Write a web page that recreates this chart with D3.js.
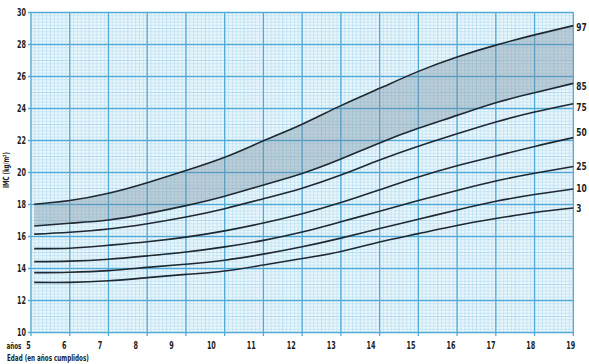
<!DOCTYPE html>
<html>
<head>
<meta charset="utf-8">
<script src="https://cdn.jsdelivr.net/npm/d3@7"></script>
<style>
  html, body { margin: 0; padding: 0; background: #ffffff; }
  svg { display: block; }
  text { font-family: "Liberation Sans Narrow", "DejaVu Sans Condensed", "Roboto Condensed", "DejaVu Sans", sans-serif; font-stretch: condensed; font-weight: bold; fill: #1c1c1c; }
</style>
</head>
<body>
<svg id="chart" width="589" height="364"></svg>
<script>
// ---- data ----
const ages = [5.083, 6, 7, 8, 9, 10, 11, 12, 13, 14, 15, 16, 17, 18, 19];
const p3  = [13.13, 13.13, 13.23, 13.43, 13.63, 13.84, 14.22, 14.62, 15.06, 15.66, 16.18, 16.69, 17.12, 17.50, 17.78];
const p10 = [13.74, 13.77, 13.87, 14.07, 14.27, 14.52, 14.90, 15.36, 15.90, 16.50, 17.08, 17.66, 18.20, 18.62, 18.97];
const p25 = [14.43, 14.46, 14.58, 14.79, 15.03, 15.35, 15.76, 16.28, 16.92, 17.58, 18.25, 18.88, 19.47, 19.95, 20.38];
const p50 = [15.24, 15.27, 15.45, 15.67, 15.96, 16.35, 16.84, 17.42, 18.12, 18.92, 19.72, 20.42, 21.03, 21.63, 22.18];
const p75 = [16.15, 16.27, 16.47, 16.80, 17.22, 17.74, 18.36, 19.02, 19.84, 20.78, 21.64, 22.42, 23.16, 23.78, 24.30];
const p85 = [16.66, 16.83, 17.03, 17.43, 17.93, 18.52, 19.22, 19.94, 20.84, 21.85, 22.76, 23.57, 24.36, 24.98, 25.57];
const p97 = [18.02, 18.25, 18.70, 19.36, 20.12, 20.95, 21.98, 23.02, 24.18, 25.26, 26.32, 27.22, 27.96, 28.60, 29.18];
const seriesNames = ["3", "10", "25", "50", "75", "85", "97"];
const seriesValues = [p3, p10, p25, p50, p75, p85, p97];
const xTickLabels = [5, 6, 7, 8, 9, 10, 11, 12, 13, 14, 15, 16, 17, 18, 19];
const yTickLabels = [10, 12, 14, 16, 18, 20, 22, 24, 26, 28, 30];
const yAxisTitle = "IMC (kg/m²)";
const xAxisUnit = "años";
const xAxisTitle = "Edad (en años cumplidos)";

// ---- layout ----
const svg = d3.select("#chart");
const x = d3.scaleLinear().domain([5, 19]).range([31, 573.3]);
const y = d3.scaleLinear().domain([10, 30]).range([332.5, 12.5]);
// tick labels in the reference sit slightly left of their grid lines
const xLabel = d3.scaleLinear().domain([5, 9, 19]).range([x(5) - 2.5, x(9) - 14.5, x(19) - 2.5]);
const narrow = (sel, perChar) => sel.attr("textLength", function () { return this.textContent.length * perChar; })
  .attr("lengthAdjust", "spacingAndGlyphs");
// squeeze a text horizontally (via transform) so that it is `w` px wide
function squeeze(sel, tx, ty, w, rot) {
  const len = sel.node().getComputedTextLength();
  const k = Math.min(1, w / len);
  sel.attr("transform", `translate(${tx},${ty})` + (rot ? ` rotate(${rot})` : "") + ` scale(${k},1)`);
}

// background
svg.append("rect").attr("x", x(5)).attr("y", y(30))
  .attr("width", x(19) - x(5)).attr("height", y(10) - y(30)).attr("fill", "#eaf6fc");

const grid = svg.append("g");
// minor grid
const minorX = d3.range(0, 141).map(i => 5 + i / 10);
const minorY = d3.range(0, 101).map(i => 10 + i / 5);
grid.selectAll(".mx").data(minorX).join("line")
  .attr("x1", d => x(d)).attr("x2", d => x(d)).attr("y1", y(30)).attr("y2", y(10))
  .attr("stroke", d => (Math.round(d * 10) % 5 === 0) ? "#9ad0ea" : "#b4ddf0")
  .attr("stroke-width", 0.6);
grid.selectAll(".my").data(minorY).join("line")
  .attr("y1", d => y(d)).attr("y2", d => y(d)).attr("x1", x(5)).attr("x2", x(19))
  .attr("stroke", d => (Math.round(d * 5) % 5 === 0) ? "#9ad0ea" : "#b4ddf0")
  .attr("stroke-width", 0.6);
// major grid
grid.selectAll(".Mx").data(xTickLabels).join("line")
  .attr("x1", d => x(d)).attr("x2", d => x(d)).attr("y1", y(30)).attr("y2", y(10) + 3.5)
  .attr("stroke", "#52aad8").attr("stroke-width", 1.3);
grid.selectAll(".My").data(yTickLabels).join("line")
  .attr("y1", d => y(d)).attr("y2", d => y(d)).attr("x1", x(5) - 3).attr("x2", x(19))
  .attr("stroke", "#52aad8").attr("stroke-width", 1.3);

// shaded band between 85 and 97
const curve = d3.curveNatural;
const pts = ages.map((a, i) => ({ a, lo: p85[i], hi: p97[i] }));
svg.append("path").datum(pts)
  .attr("d", d3.area().x(d => x(d.a)).y0(d => y(d.lo)).y1(d => y(d.hi)).curve(curve))
  .attr("fill", "#6f8899").attr("fill-opacity", 0.36);

// curves
const line = d3.line().x(d => x(d[0])).y(d => y(d[1])).curve(curve);
seriesValues.forEach(vals => {
  svg.append("path").datum(ages.map((a, i) => [a, vals[i]]))
    .attr("d", line).attr("fill", "none")
    .attr("stroke", "#1e2931").attr("stroke-width", 1.6);
});

// right-end labels
const nudge = { "97": 2.5, "85": 4, "75": 4, "50": -4.5, "25": 0.5, "10": 0.5, "3": 0.5 };
seriesNames.forEach((n, i) => {
  const v = seriesValues[i][seriesValues[i].length - 1];
  svg.append("text").attr("x", x(19) + 3).attr("y", y(v) + nudge[n])
    .attr("dominant-baseline", "middle").attr("font-size", 10.5).text(n).call(narrow, 5.2);
});

// y tick labels
svg.selectAll(".yl").data(yTickLabels).join("text")
  .attr("x", x(5) - 5).attr("y", d => y(d)).attr("text-anchor", "end")
  .attr("dominant-baseline", "middle").attr("font-size", 10).text(d => d).call(narrow, 4.5);

// x tick labels
svg.selectAll(".xl").data(xTickLabels).join("text")
  .attr("x", d => xLabel(d)).attr("y", 349).attr("text-anchor", "middle")
  .attr("font-size", 10).text(d => d).call(narrow, 4.5);

// axis titles
svg.append("text").attr("font-size", 9.5).text(xAxisUnit).call(squeeze, 6.5, 349, 15);
svg.append("text").attr("font-size", 9.5).text(xAxisTitle).call(squeeze, 7, 360.5, 82);
svg.append("text").attr("text-anchor", "middle").attr("font-size", 8.5).text(yAxisTitle)
  .call(squeeze, 9, 170, 36, -90);
</script>
</body>
</html>
